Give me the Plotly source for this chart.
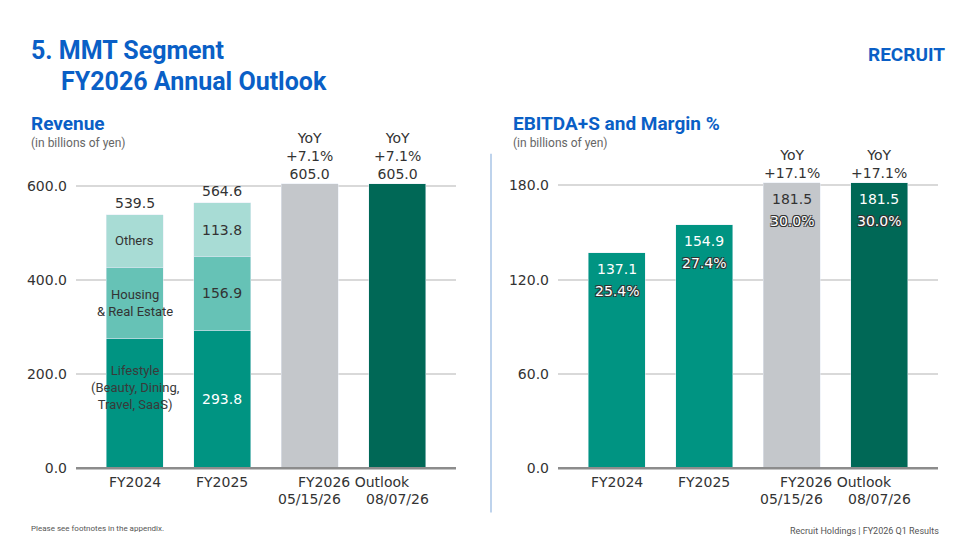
import plotly.graph_objects as go

cats = ["FY2024", "FY2025", "FY2026a", "FY2026b"]
lifestyle = [277.0, 293.8]
housing = [150.9, 156.9]
others = [111.6, 113.8]
rev_totals = [539.5, 564.6, 605.0, 605.0]
rev_yoy = ["+7.1%", "+7.1%"]
ebitda = [137.1, 154.9, 181.5, 181.5]
margin = ["25.4%", "27.4%", "30.0%", "30.0%"]
eb_yoy = ["+17.1%", "+17.1%"]
xlabels = ["FY2024", "FY2025"]
outlook_dates = ["05/15/26", "08/07/26"]
rev_ticks = [0, 200, 400, 600]
eb_ticks = [0, 60, 120, 180]

C_L, C_H, C_O = "#009482", "#66c2b6", "#a8dcd5"
C_G, C_D = "#c4c7cb", "#006856"
BLUE = "#0a5fc6"
TXT = "#333333"
FONT = "DejaVu Sans"
W = 0.65
idx = list(range(4))
OX, OY = 7, 0
WID, HEI = 968, 544

def fx(px): return (px - OX) / WID
def fy(py): return 1 - (py - OY) / HEI

fig = go.Figure()
fig.add_bar(x=idx[:2], y=lifestyle, marker_color=C_L, width=W, xaxis="x", yaxis="y")
fig.add_bar(x=idx[:2], y=housing, marker_color=C_H, width=W, xaxis="x", yaxis="y")
fig.add_bar(x=idx[:2], y=others, marker_color=C_O, width=W, xaxis="x", yaxis="y")
fig.add_bar(x=idx[2:], y=rev_totals[2:], marker_color=[C_G, C_D], width=W, xaxis="x", yaxis="y")
fig.add_bar(x=idx, y=ebitda, marker_color=[C_L, C_L, C_G, C_D], width=W, xaxis="x2", yaxis="y2")

B, T = fy(467), fy(150)
ax = dict(range=[-0.67, 3.67], showticklabels=False, showgrid=False, zeroline=False,
          fixedrange=True)
fig.update_layout(
    barmode="stack", showlegend=False, width=WID, height=HEI,
    margin=dict(l=0, r=0, t=0, b=0), plot_bgcolor="white", paper_bgcolor="white",
    font=dict(family=FONT, color=TXT),
    xaxis=dict(domain=[fx(75), fx(455)], anchor="y", **ax),
    xaxis2=dict(domain=[fx(557), fx(937)], anchor="y2", **ax),
    yaxis=dict(domain=[B, T], range=[0, 665], tickvals=rev_ticks, tickformat=".1f",
               gridcolor="#d9d9d9", gridwidth=1.5, zeroline=False, tickfont=dict(size=14, color=TXT),
               ticks="", ticklabelstandoff=8),
    yaxis2=dict(domain=[B, T], range=[0, 198.8], tickvals=eb_ticks, tickformat=".1f",
                gridcolor="#d9d9d9", gridwidth=1.5, zeroline=False, tickfont=dict(size=14, color=TXT),
                ticks="", ticklabelstandoff=8, anchor="x2"),
)
for xr in ["x", "x2"]:
    fig.add_shape(type="line", xref=f"{xr} domain", yref="paper", x0=0, x1=1, y0=B, y1=B,
                  line=dict(color="#8c8c8c", width=2.5))

ann = []
def A(x, y, text, xref="x", yref="y", size=14, color=TXT, **kw):
    ann.append(dict(x=x, y=y, text=text, xref=xref, yref=yref, showarrow=False,
                    font=dict(size=size, color=color, family=kw.pop("family", FONT),
                              **({"shadow": kw.pop("shadow")} if "shadow" in kw else {})), **kw))

for i in range(2):
    A(i, rev_totals[i], f"{rev_totals[i]:.1f}", yanchor="bottom", yshift=2)
A(1, lifestyle[1] / 2, f"{lifestyle[1]:.1f}", color="white")
A(1, lifestyle[1] + housing[1] / 2, f"{housing[1]:.1f}")
A(1, lifestyle[1] + housing[1] + others[1] / 2, f"{others[1]:.1f}")
A(0, lifestyle[0] + housing[0] + others[0] / 2, "Others", size=13, family="Roboto")
A(0, lifestyle[0] + housing[0] / 2, "Housing<br>& Real Estate", size=13, family="Roboto")
A(0, lifestyle[0] * 0.62, "Lifestyle<br>(Beauty, Dining,<br>Travel, SaaS)", size=13,
  family="Roboto", color="#3a3a3a")
for j in range(2):
    A(2 + j, rev_totals[2 + j], f"YoY<br>{rev_yoy[j]}<br>{rev_totals[2+j]:.1f}",
      yanchor="bottom", yshift=0)
sh = "1px 1px 0 #333, -1px -1px 0 #333, 1px -1px 0 #333, -1px 1px 0 #333"
for i in range(4):
    col = TXT if i == 2 else "white"
    A(i, ebitda[i], f"{ebitda[i]:.1f}", xref="x2", yref="y2", yanchor="top", yshift=-6,
      color=col)
    A(i, ebitda[i], margin[i], xref="x2", yref="y2", yanchor="top", yshift=-28,
      color="white", shadow=sh)
for j in range(2):
    A(2 + j, ebitda[2 + j], f"YoY<br>{eb_yoy[j]}", xref="x2", yref="y2",
      yanchor="bottom", yshift=0)
for xr in ["x", "x2"]:
    for i in range(2):
        A(i, B, xlabels[i], xref=xr, yref="paper", yanchor="top", yshift=-4)
    A(2.5, B, "FY2026 Outlook", xref=xr, yref="paper", yanchor="top", yshift=-4)
    for j in range(2):
        A(2 + j, B, outlook_dates[j], xref=xr, yref="paper", yanchor="top", yshift=-21)

def P(x, y, text, size, color=TXT, family="Roboto", xanchor="left", yanchor="top"):
    ann.append(dict(x=fx(x), y=fy(y), xref="paper", yref="paper", text=text,
                    showarrow=False, xanchor=xanchor, yanchor=yanchor, align="left",
                    font=dict(size=size, color=color, family=family)))
P(28, 26, "<b>5. MMT Segment</b>", 25, BLUE)
P(58, 58, "<b>FY2026 Annual Outlook</b>", 25, BLUE)
P(28, 104, "<b>Revenue</b>", 19, BLUE)
P(28, 128, "(in billions of yen)", 12, "#666")
P(510, 104, "<b>EBITDA+S and Margin %</b>", 19, BLUE)
P(510, 128, "(in billions of yen)", 12, "#666")
P(28, 522, "Please see footnotes in the appendix.", 8, "#555")
P(940, 524, "Recruit Holdings | FY2026 Q1 Results", 9, "#555", xanchor="right")
P(946, 33, "<b>RECRUIT</b>", 19, BLUE, xanchor="right")
fig.update_layout(annotations=ann)
fig.add_shape(type="line", xref="paper", yref="paper", x0=fx(490), x1=fx(490),
              y0=fy(512), y1=fy(148), line=dict(color="#a9c4e6", width=1.5))
fig.write_html("out.html")
